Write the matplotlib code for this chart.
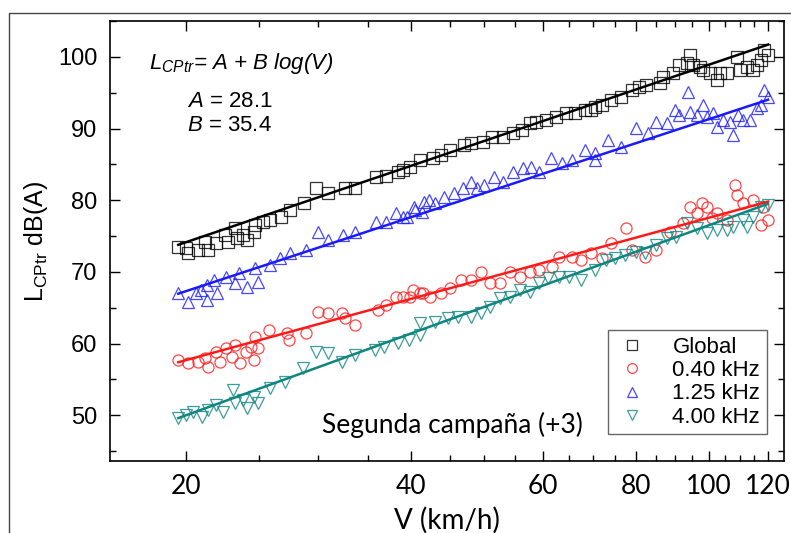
import numpy as np
import matplotlib
matplotlib.use('Agg')
import matplotlib.pyplot as plt
from matplotlib.ticker import FixedLocator, MultipleLocator, NullFormatter
from matplotlib.patches import Rectangle

plt.rcParams['font.family'] = ['Liberation Sans', 'DejaVu Sans']
plt.rcParams['mathtext.fontset'] = 'custom'
plt.rcParams['mathtext.rm'] = 'Liberation Sans'
plt.rcParams['mathtext.it'] = 'Liberation Sans:italic'

# Global (black squares)
v_global = [19.5, 20.1, 20.0, 20.7, 21.2, 21.4, 21.9, 22.5, 22.7, 23.2, 23.4, 23.8, 24.1, 24.6,
            24.7, 25.3, 25.9, 26.8, 27.5, 28.7, 29.8, 30.9, 32.6, 33.6, 35.9, 37.0, 38.4, 39.0,
            39.8, 41.1, 42.7, 43.8, 45.1, 47.0, 48.0, 49.8, 51.3, 53.1, 54.7, 56.2, 57.6, 58.8,
            60.6, 62.4, 64.3, 66.3, 68.3, 70.5, 69.6, 71.9, 74.0, 76.4, 78.8, 80.6, 82.5, 85.9,
            86.8, 89.5, 91.3, 93.5, 94.3, 95.2, 97.2, 98.2, 100.3, 102.5, 103.4, 105.6, 108.9,
            110.0, 112.4, 114.7, 116.0, 118.4, 120.0, 117.6]
l_global = [73.5, 72.6, 73.3, 73.0, 74.2, 73.0, 74.0, 75.1, 74.2, 76.1, 74.7, 75.1, 74.4, 75.6,
            76.5, 77.0, 77.2, 77.7, 78.6, 79.6, 81.7, 81.0, 81.7, 81.7, 83.2, 83.4, 84.0, 84.2,
            84.6, 85.6, 85.9, 86.3, 87.0, 87.7, 88.0, 88.1, 88.8, 88.8, 89.4, 89.8, 90.8, 90.9,
            91.2, 91.6, 92.2, 92.2, 92.6, 93.0, 92.6, 93.3, 94.0, 94.4, 95.4, 95.8, 96.1, 96.4,
            97.2, 97.8, 98.9, 99.2, 100.3, 98.9, 98.6, 98.2, 97.8, 96.8, 97.8, 97.8, 100.0,
            98.2, 98.6, 98.2, 98.9, 101.0, 100.3, 99.6]

# 0.40 kHz (red circles)
v_040 = [19.5, 20.1, 20.7, 21.2, 21.4, 21.9, 22.2, 22.6, 23.0, 23.2, 23.6, 24.0, 24.4, 24.6,
         24.7, 24.9, 25.8, 27.3, 27.4, 28.9, 30.0, 30.9, 32.3, 32.6, 33.6, 36.1, 37.0, 38.1,
         39.0, 40.2, 41.4, 39.8, 41.1, 42.4, 43.8, 45.1, 46.6, 48.0, 49.5, 51.0, 52.6, 54.2,
         55.9, 57.6, 59.3, 61.6, 63.0, 65.5, 67.5, 69.6, 71.9, 74.0, 77.5, 78.8, 82.2, 85.0,
         88.6, 92.3, 94.3, 96.3, 97.9, 99.4, 100.9, 102.5, 105.6, 108.3, 108.9, 111.0, 114.7,
         117.6, 120.0, 118.0]
l_040 = [57.7, 57.3, 57.4, 58.0, 56.7, 58.8, 57.4, 59.4, 58.1, 59.8, 57.3, 58.8, 59.5, 57.7,
         60.9, 59.4, 61.9, 61.5, 60.5, 61.5, 64.4, 64.2, 64.2, 63.5, 62.6, 64.7, 65.4, 66.5,
         66.5, 67.5, 67.0, 66.5, 67.0, 66.5, 67.0, 67.7, 68.9, 68.9, 70.0, 68.4, 68.4, 70.0,
         69.3, 70.0, 70.3, 70.7, 72.1, 72.1, 71.6, 72.6, 71.9, 74.0, 76.1, 73.0, 72.1, 73.0,
         75.6, 76.8, 79.1, 78.2, 79.6, 79.1, 77.5, 78.2, 77.2, 82.1, 80.7, 79.6, 80.0,
         76.5, 77.2, 79.1]

# 1.25 kHz (blue up triangles)
v_125 = [19.5, 20.1, 20.6, 20.9, 21.3, 21.3, 21.8, 22.0, 22.6, 23.2, 23.5, 24.1, 24.7, 24.9,
         25.9, 26.7, 27.5, 28.9, 30.0, 30.9, 32.4, 33.6, 35.9, 37.0, 38.1, 39.0, 40.5, 41.6,
         39.4, 40.3, 41.3, 42.2, 43.0, 44.2, 45.6, 46.9, 48.0, 49.0, 50.0, 51.6, 53.1, 54.7,
         56.4, 57.9, 59.3, 61.5, 63.6, 65.5, 68.3, 70.5, 70.5, 73.4, 76.4, 79.8, 83.0, 85.0,
         87.8, 90.0, 91.3, 93.8, 94.3, 96.3, 98.2, 99.4, 101.2, 102.5, 104.4, 106.6, 107.6,
         109.3, 111.0, 113.5, 116.0, 118.4, 120.0, 117.6]
l_125 = [67.0, 65.8, 67.0, 67.5, 66.1, 68.2, 68.9, 67.0, 69.3, 68.4, 69.8, 67.9, 70.5, 68.6,
         71.0, 71.9, 72.6, 73.0, 75.6, 74.4, 75.1, 75.6, 77.0, 77.0, 78.2, 77.7, 78.6, 79.7,
         77.7, 79.1, 78.4, 80.0, 79.6, 80.4, 81.0, 81.7, 82.5, 81.7, 82.1, 83.2, 82.5, 83.9,
         84.5, 84.6, 83.9, 85.9, 85.2, 85.6, 87.0, 85.6, 86.6, 88.4, 87.4, 90.1, 89.4, 90.9,
         90.8, 92.6, 91.9, 95.1, 92.3, 91.9, 93.3, 91.6, 92.2, 90.2, 91.2, 90.9, 89.1,
         91.9, 91.2, 91.2, 92.9, 95.4, 94.4, 93.3]

# 4.00 kHz (teal down triangles)
v_400 = [19.5, 20.0, 20.4, 21.0, 21.4, 21.9, 22.4, 23.1, 23.2, 23.8, 24.1, 24.6, 24.9, 25.9,
         27.1, 28.6, 29.8, 30.9, 32.3, 33.6, 35.7, 36.8, 38.4, 39.7, 41.1, 41.1, 43.0, 44.7,
         46.1, 48.0, 49.5, 51.0, 52.6, 54.2, 55.9, 57.6, 59.3, 61.0, 63.0, 64.9, 67.5, 70.5,
         72.8, 74.9, 77.3, 79.8, 82.2, 85.0, 87.8, 90.5, 93.5, 96.3, 99.4, 102.5, 105.6, 107.6,
         111.0, 114.7, 117.6, 120.0, 112.4]
l_400 = [49.6, 50.0, 50.4, 49.7, 50.7, 51.4, 50.4, 53.5, 51.7, 52.1, 51.0, 52.5, 51.7, 53.8,
         54.6, 56.6, 58.8, 58.7, 57.4, 58.4, 59.1, 59.5, 60.1, 60.5, 61.2, 62.8, 63.0, 63.5,
         63.7, 63.7, 64.2, 65.1, 66.3, 66.5, 67.5, 67.2, 68.4, 69.1, 69.3, 69.3, 68.9, 70.3,
         71.6, 71.9, 72.3, 72.8, 72.6, 73.7, 74.7, 74.9, 76.8, 76.1, 75.4, 75.8, 75.8, 76.3,
         77.2, 77.7, 79.1, 79.3, 76.3]

# fitted lines L = A + B log10(V)
labels = ['Global', '0.40 kHz', '1.25 kHz', '4.00 kHz']
fit_a = [28.1, 20.75, 22.7, 0.7]
fit_b = [35.4, 28.4, 34.3, 37.9]
fit_range = [19.5, 120.0]

colors = ['black', '#ff1a1a', '#1a1aff', '#0f8580']
markers = ['s', 'o', '^', 'v']
series = [(v_global, l_global), (v_040, l_040), (v_125, l_125), (v_400, l_400)]

fig = plt.figure(figsize=(7.91, 5.33), dpi=100)
ax = fig.add_axes([0.139, 0.135, 0.852, 0.8256])

# outer frame of the picture
fig.patches.append(Rectangle((9 / 791, -0.05), 1.2, 0.05 + 1 - 13 / 533, transform=fig.transFigure,
                             fill=False, edgecolor='#444444', linewidth=1.0))

handles = []
for (v, l), c, m, lab in zip(series, colors, markers, labels):
    h = ax.plot(v, l, linestyle='none', marker=m, markersize=8, markerfacecolor='none',
                markeredgecolor=c, markeredgewidth=0.9, alpha=0.8, label=lab)[0]
    handles.append(h)

vv = np.geomspace(fit_range[0], fit_range[1], 50)
for a, b, c in zip(fit_a, fit_b, colors):
    ax.plot(vv, a + b * np.log10(vv), color=c, linewidth=1.8)

ax.set_xscale('log')
ax.set_xlim(15.8, 126)
ax.set_ylim(43.6, 105)
ax.xaxis.set_major_locator(FixedLocator([20, 40, 60, 80, 100, 120]))
ax.xaxis.set_minor_locator(FixedLocator(list(range(25, 125, 5))))
ax.xaxis.set_major_formatter(plt.FuncFormatter(lambda x, p: '%d' % x))
ax.xaxis.set_minor_formatter(NullFormatter())
ax.yaxis.set_major_locator(MultipleLocator(10))
ax.yaxis.set_minor_locator(MultipleLocator(5))

ax.tick_params(which='both', direction='in', top=True, right=True, width=1.0)
ax.tick_params(which='major', length=7)
ax.tick_params(which='minor', length=4)
ax.tick_params(axis='y', labelsize=17, pad=9)
ax.tick_params(axis='x', labelsize=19, pad=9)
for t in ax.get_xticklabels():
    t.set_fontfamily('Lato')
for s in ax.spines.values():
    s.set_linewidth(1.2)

ax.set_xlabel('V (km/h)', fontsize=20, fontfamily='Lato', labelpad=6)
ax.set_ylabel(r'$\mathregular{L_{CPtr}}$ dB(A)', fontsize=18, labelpad=6)

ax.text(0.058, 0.903, r'$L_{CPtr}$= A + B log(V)', transform=ax.transAxes, fontsize=16,
        style='italic', va='center')
ax.text(0.115, 0.817, r'$A$ = 28.1', transform=ax.transAxes, fontsize=16, va='center')
ax.text(0.115, 0.762, r'$B$ = 35.4', transform=ax.transAxes, fontsize=16, va='center')
ax.text(0.315, 0.082, 'Segunda campaña (+3)', transform=ax.transAxes, fontsize=19,
        fontfamily='Lato', va='center')

leg = ax.legend(handles=handles, loc='lower right', bbox_to_anchor=(0.975, 0.061),
                fontsize=16, fancybox=False, edgecolor='#666666', framealpha=1,
                borderaxespad=0, handletextpad=1.0, labelspacing=0.1, borderpad=0.3,
                handlelength=1.6)
leg.get_frame().set_linewidth(1.0)
for lh in leg.legend_handles:
    lh.set_markersize(7)

fig.savefig('out.png', dpi=100)
